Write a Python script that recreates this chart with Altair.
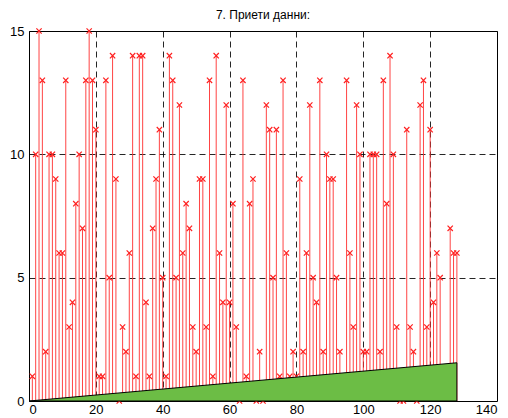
import altair as alt
import pandas as pd

received = [1, 10, 15, 13, 2, 10, 10, 9, 6, 6, 13, 3, 4, 8, 10, 7, 13, 15, 13, 11,
            1, 1, 13, 5, 14, 9, 0, 3, 2, 6, 14, 1, 14, 14, 4, 1, 7, 9, 11, 5,
            1, 14, 13, 5, 12, 6, 8, 7, 3, 2, 9, 9, 3, 13, 1, 14, 6, 4, 12, 4,
            8, 3, 0, 13, 1, 8, 9, 0, 2, 0, 12, 11, 5, 11, 1, 13, 6, 1, 2, 1,
            9, 2, 6, 12, 5, 4, 13, 2, 10, 9, 9, 5, 2, 1, 13, 6, 3, 12, 10, 2,
            2, 10, 10, 10, 2, 13, 8, 14, 10, 3, 0, 0, 11, 3, 2, 0, 12, 13, 3, 11,
            4, 6, 5, 1, 1, 7, 6, 6]
positions = list(range(1, len(received) + 1))

thr_x = [0, 128]
thr_y = [0, 1.55]

x_ticks = [0, 20, 40, 60, 80, 100, 120, 140]
y_ticks = [0, 5, 10, 15]

df = pd.DataFrame({"n": positions, "v": received})
tri = pd.DataFrame({"n": thr_x, "v": thr_y})

xs = alt.Scale(domain=[0, 140], nice=False)
ys = alt.Scale(domain=[0, 15], nice=False)

xaxis = alt.Axis(values=x_ticks, grid=True, gridDash=[6, 4], gridColor="#000000",
                 gridOpacity=0.85, title=None, domain=False, ticks=False,
                 labelFont="Liberation Sans", labelFontSize=13, labelColor="#000",
                 labelPadding=2)
yaxis = alt.Axis(values=y_ticks, grid=True, gridDash=[6, 4], gridColor="#000000",
                 gridOpacity=0.85, title=None, domain=False, ticks=False,
                 labelFont="Liberation Sans", labelFontSize=13, labelColor="#000",
                 labelPadding=5)

stems = alt.Chart(df).mark_rule(color="#ff3030", strokeWidth=1, opacity=0.9).encode(
    x=alt.X("n:Q", scale=xs, axis=xaxis),
    y=alt.Y("v:Q", scale=ys, axis=yaxis),
    y2=alt.datum(0),
)

marks = alt.Chart(df).mark_point(
    shape="M-1,-1L1,1M-1,1L1,-1", color="#ff2020", size=28, strokeWidth=1.2, filled=False,
    opacity=1
).encode(x=alt.X("n:Q", scale=xs), y=alt.Y("v:Q", scale=ys))

area = alt.Chart(tri).mark_area(color="#6cbd45", stroke="#000000", strokeWidth=1,
                                 opacity=1).encode(
    x=alt.X("n:Q", scale=xs),
    y=alt.Y("v:Q", scale=ys),
    y2=alt.datum(0),
)

chart = alt.layer(stems, marks, area).properties(
    width=468, height=370,
    title=alt.TitleParams("7. Приети данни:", font="Liberation Sans", fontSize=12,
                          fontWeight="normal", color="#000", offset=3, anchor="middle"),
    autosize=alt.AutoSizeParams(type="none"),
    padding={"left": 29, "top": 31, "right": 11, "bottom": 17},
).configure_view(stroke="#000000", strokeWidth=1)

chart.save("out.html", embed_options={"renderer": "svg", "actions": False})
